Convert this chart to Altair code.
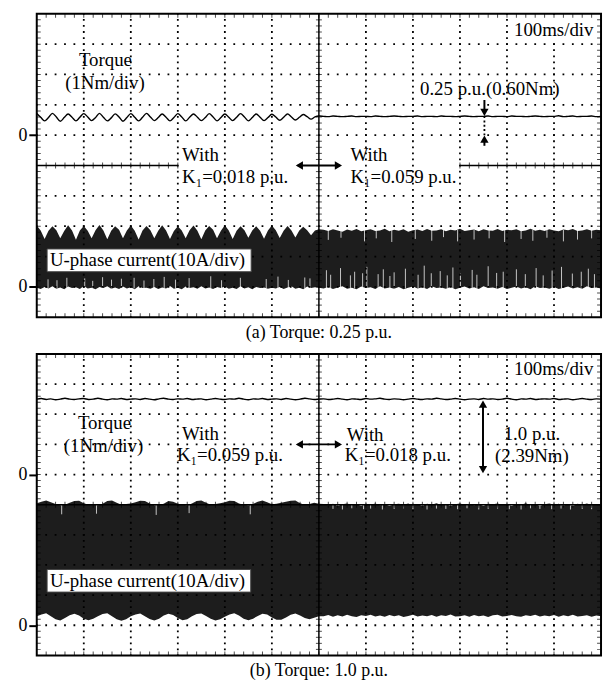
import altair as alt
import pandas as pd

FONT = "Liberation Serif"
INK = "black"
BAND = "#1d1d1d"

# time axis (divisions, 100 ms/div). Panel (a) left half is sampled finer
# because of the torque ripple.
X_A = [k / 12 for k in range(73)] + [6 + i / 10 for i in range(1, 61)]
X_B = [i / 10 for i in range(121)]

# ---------------- panel (a): torque 0.25 p.u. ----------------
TORQUE_A = [
    6.71, 6.59, 6.47, 6.58, 6.72, 6.60, 6.46, 6.58, 6.70, 6.59, 6.47, 6.59,
    6.71, 6.60, 6.48, 6.58, 6.72, 6.59, 6.47, 6.57, 6.70, 6.60, 6.46, 6.58,
    6.71, 6.59, 6.47, 6.59, 6.72, 6.60, 6.48, 6.58, 6.70, 6.59, 6.47, 6.58,
    6.71, 6.60, 6.47, 6.59, 6.70, 6.59, 6.48, 6.58, 6.71, 6.60, 6.47, 6.58,
    6.70, 6.59, 6.48, 6.59, 6.71, 6.60, 6.47, 6.58, 6.70, 6.59, 6.48, 6.58,
    6.69, 6.60, 6.49, 6.59, 6.70, 6.60, 6.50, 6.59, 6.68, 6.61, 6.53, 6.60,
    6.63,
    6.62, 6.61, 6.63, 6.62, 6.61, 6.62, 6.63, 6.61, 6.62, 6.62,
    6.61, 6.63, 6.62, 6.61, 6.62, 6.63, 6.62, 6.61, 6.62, 6.62,
    6.63, 6.61, 6.62, 6.62, 6.61, 6.63, 6.62, 6.62, 6.61, 6.62,
    6.63, 6.62, 6.61, 6.62, 6.62, 6.63, 6.61, 6.62, 6.62, 6.61,
    6.63, 6.62, 6.62, 6.61, 6.62, 6.63, 6.62, 6.61, 6.62, 6.62,
    6.64, 6.61, 6.62, 6.63, 6.61, 6.62, 6.62, 6.63, 6.61, 6.62,
]
CUR_A_UP = [
    3.02, 2.86, 2.58, 2.85, 3.00, 2.87, 2.60, 2.84, 3.03, 2.86, 2.55, 2.86,
    3.01, 2.85, 2.60, 2.87, 3.04, 2.86, 2.57, 2.85, 3.00, 2.88, 2.60, 2.86,
    3.02, 2.85, 2.56, 2.86, 3.01, 2.87, 2.60, 2.85, 3.03, 2.86, 2.58, 2.84,
    3.00, 2.86, 2.60, 2.87, 3.02, 2.85, 2.57, 2.86, 3.01, 2.88, 2.60, 2.85,
    3.03, 2.86, 2.58, 2.85, 3.00, 2.87, 2.62, 2.86, 3.00, 2.85, 2.59, 2.86,
    3.02, 2.87, 2.61, 2.85, 3.01, 2.86, 2.63, 2.86, 2.98, 2.87, 2.70, 2.86,
    2.90,
    2.88, 2.84, 2.90, 2.86, 2.82, 2.89, 2.85, 2.91, 2.83, 2.87,
    2.90, 2.84, 2.86, 2.92, 2.83, 2.88, 2.85, 2.90, 2.82, 2.87,
    2.89, 2.84, 2.91, 2.85, 2.86, 2.90, 2.83, 2.88, 2.86, 2.92,
    2.84, 2.87, 2.89, 2.83, 2.90, 2.86, 2.85, 2.91, 2.84, 2.88,
    2.87, 2.90, 2.83, 2.86, 2.92, 2.85, 2.88, 2.84, 2.90, 2.86,
    2.83, 2.89, 2.87, 2.91, 2.84, 2.86, 2.90, 2.85, 2.88, 2.87,
]
CUR_A_LO = [
    0.97, 0.93, 1.00, 0.95, 1.02, 0.94, 0.98, 0.92, 1.01, 0.96, 0.99, 0.93,
    1.03, 0.95, 0.97, 0.92, 1.00, 0.96, 1.02, 0.94, 0.98, 0.93, 1.01, 0.95,
    0.99, 0.92, 1.02, 0.96, 0.97, 0.94, 1.00, 0.93, 0.98, 0.95, 1.03, 0.94,
    0.97, 0.92, 1.01, 0.96, 0.99, 0.94, 1.02, 0.95, 0.98, 0.93, 1.00, 0.96,
    1.01, 0.94, 0.97, 0.93, 1.02, 0.95, 0.99, 0.92, 1.00, 0.96, 0.98, 0.94,
    0.97, 0.95, 1.00, 0.93, 0.98, 1.02, 0.94, 0.97, 0.92, 1.01, 0.96, 0.99,
    0.97,
    0.95, 1.00, 0.93, 0.98, 1.02, 0.94, 0.97, 0.92, 1.01, 0.96,
    0.99, 0.93, 1.02, 0.95, 0.98, 0.94, 1.00, 0.92, 0.97, 1.01,
    0.95, 0.99, 0.93, 1.02, 0.96, 0.98, 0.94, 1.00, 0.92, 0.97,
    1.01, 0.95, 0.99, 0.93, 1.02, 0.96, 0.98, 0.94, 1.00, 0.93,
    0.97, 1.01, 0.95, 0.99, 0.92, 1.02, 0.96, 0.98, 0.94, 1.00,
    0.93, 0.97, 1.01, 0.95, 0.99, 0.94, 1.02, 0.96, 0.98, 0.95,
]
# white switching spikes in the current trace (a): bottom ones, then top ones
SPK_A_X = [0.24, 0.43, 0.64, 1.02, 1.19, 1.40, 1.59, 1.80, 2.07, 2.28, 2.49, 2.71,
           2.95, 3.24, 3.70, 3.93, 4.33, 4.88, 5.13, 5.35, 5.70, 5.81,
           6.16, 6.25, 6.46, 6.67, 6.76, 6.93, 7.02, 7.26, 7.37, 7.51, 7.60, 7.84,
           8.11, 8.24, 8.39, 8.58, 8.73, 8.85, 9.01, 9.26, 9.36, 9.60, 9.78, 9.92,
           10.20, 10.39, 10.62, 10.77, 10.96, 11.16, 11.39, 11.58, 11.73, 11.86,
           6.20, 6.47, 6.97, 7.22, 7.55, 8.05, 8.40, 8.65, 8.95, 9.30, 9.62, 9.95,
           10.30, 10.55, 10.85, 11.20, 11.50, 11.80]
SPK_A_Y0 = [0.95] * 56 + [2.88] * 18
SPK_A_Y1 = [1.25, 1.22, 1.30, 1.28, 1.20, 1.32, 1.24, 1.27, 1.30, 1.21, 1.26, 1.33,
            1.24, 1.29, 1.35, 1.22, 1.30, 1.26, 1.34, 1.23, 1.31, 1.28,
            1.55, 1.40, 1.62, 1.38, 1.50, 1.45, 1.66, 1.42, 1.58, 1.36, 1.48, 1.60,
            1.40, 1.70, 1.45, 1.52, 1.38, 1.64, 1.44, 1.56, 1.40, 1.68, 1.46, 1.50,
            1.58, 1.42, 1.62, 1.38, 1.54, 1.66, 1.44, 1.50, 1.60, 1.42,
            2.55, 2.62, 2.50, 2.60, 2.48, 2.58, 2.52, 2.64, 2.50, 2.56, 2.60, 2.48,
            2.58, 2.52, 2.62, 2.50, 2.56, 2.60]

# ---------------- panel (b): torque 1.0 p.u. ----------------
TORQUE_B = [
    8.50, 8.52, 8.49, 8.51, 8.48, 8.50, 8.53, 8.50, 8.49, 8.51,
    8.52, 8.49, 8.50, 8.53, 8.50, 8.48, 8.51, 8.50, 8.52, 8.49,
    8.50, 8.51, 8.49, 8.52, 8.50, 8.48, 8.51, 8.53, 8.50, 8.49,
    8.51, 8.50, 8.52, 8.49, 8.50, 8.51, 8.48, 8.50, 8.52, 8.50,
    8.49, 8.51, 8.50, 8.53, 8.50, 8.48, 8.51, 8.50, 8.52, 8.49,
    8.50, 8.51, 8.49, 8.52, 8.50, 8.48, 8.50, 8.53, 8.51, 8.49,
    8.50,
    8.51, 8.49, 8.50, 8.52, 8.50, 8.48, 8.51, 8.50, 8.49, 8.52,
    8.50, 8.51, 8.53, 8.50, 8.49, 8.51, 8.50, 8.48, 8.50, 8.52,
    8.50, 8.49, 8.51, 8.50, 8.53, 8.51, 8.49, 8.50, 8.52, 8.50,
    8.48, 8.50, 8.51, 8.49, 8.52, 8.50, 8.51, 8.49, 8.50, 8.53,
    8.50, 8.48, 8.51, 8.50, 8.52, 8.49, 8.50, 8.51, 8.50, 8.52,
    8.49, 8.50, 8.51, 8.48, 8.50, 8.52, 8.50, 8.49, 8.51, 8.50,
]
CUR_B_UP = [
    5.05, 5.10, 5.14, 5.08, 5.02, 4.98, 5.00, 5.06, 5.12, 5.13,
    5.05, 5.00, 5.02, 4.98, 5.03, 5.12, 5.14, 5.06, 5.00, 5.02,
    5.04, 5.08, 5.13, 5.12, 5.04, 4.98, 5.00, 5.03, 5.12, 5.10,
    5.03, 5.00, 4.98, 5.04, 5.12, 5.14, 5.06, 5.00, 5.02, 5.05,
    5.08, 5.13, 5.12, 5.04, 5.00, 4.98, 5.02, 5.10, 5.14, 5.08,
    5.01, 5.03, 5.06, 5.10, 5.13, 5.14, 5.05, 5.00, 5.02, 5.06,
    5.03,
    5.02, 4.98, 5.03, 4.96, 5.01, 5.04, 4.99, 5.02, 4.96, 5.03,
    5.00, 5.04, 4.98, 5.02, 4.96, 5.01, 5.03, 5.00, 5.04, 4.97,
    5.02, 4.96, 5.03, 5.00, 5.05, 4.99, 5.02, 4.96, 5.01, 5.04,
    5.00, 5.03, 4.98, 5.02, 4.96, 5.03, 5.01, 5.04, 4.99, 5.02,
    4.96, 5.03, 5.00, 5.05, 4.98, 5.02, 4.96, 5.01, 5.04, 5.00,
    5.03, 4.97, 5.02, 4.96, 5.03, 5.00, 5.04, 4.99, 5.02, 5.01,
]
CUR_B_LO = [
    1.30, 1.36, 1.40, 1.30, 1.20, 1.16, 1.24, 1.33, 1.38, 1.32,
    1.22, 1.17, 1.22, 1.30, 1.37, 1.40, 1.30, 1.20, 1.15, 1.20,
    1.30, 1.36, 1.39, 1.30, 1.21, 1.16, 1.22, 1.32, 1.38, 1.34,
    1.24, 1.17, 1.20, 1.30, 1.37, 1.39, 1.31, 1.22, 1.16, 1.20,
    1.28, 1.36, 1.40, 1.32, 1.22, 1.17, 1.22, 1.31, 1.38, 1.36,
    1.26, 1.18, 1.18, 1.26, 1.35, 1.39, 1.32, 1.24, 1.20, 1.25,
    1.30,
    1.30, 1.34, 1.28, 1.33, 1.29, 1.35, 1.30, 1.27, 1.33, 1.31,
    1.35, 1.29, 1.32, 1.28, 1.34, 1.30, 1.33, 1.27, 1.31, 1.35,
    1.29, 1.32, 1.30, 1.34, 1.28, 1.33, 1.31, 1.36, 1.29, 1.30,
    1.33, 1.28, 1.34, 1.30, 1.32, 1.27, 1.33, 1.35, 1.29, 1.31,
    1.34, 1.30, 1.28, 1.33, 1.31, 1.35, 1.29, 1.32, 1.30, 1.34,
    1.28, 1.33, 1.30, 1.35, 1.29, 1.31, 1.33, 1.28, 1.32, 1.30,
]
SPK_B_X = [0.53, 1.27, 2.54, 3.24, 4.54,
           6.30, 6.50, 6.70, 6.95, 7.10, 7.35, 7.60, 7.80, 8.00, 8.30, 8.50, 8.70,
           8.95, 9.15, 9.40, 9.60, 9.80, 10.05, 10.30, 10.50, 10.70, 10.95, 11.15,
           11.35, 11.60, 11.80]
SPK_B_Y0 = [5.05] * 5 + [5.0] * 26
SPK_B_Y1 = [4.68, 4.70, 4.66, 4.72, 4.68] + [4.86, 4.84, 4.88, 4.85, 4.87, 4.84,
            4.86, 4.88, 4.85, 4.84, 4.87, 4.86, 4.85, 4.88, 4.84, 4.86, 4.87,
            4.85, 4.84, 4.88, 4.86, 4.85, 4.87, 4.84, 4.86, 4.85]

ZERO_LEVELS = [1, 6]          # current zero, torque zero (divisions)
GRID_COLS = [1, 2, 3, 4, 5, 7, 8, 9, 10, 11]
GRID_ROWS = [1, 2, 3, 4, 6, 7, 8, 9]
MINOR_X = [i / 5 for i in range(1, 60)]
MINOR_Y = [i / 5 for i in range(1, 50)]
CAPTIONS = ["(a) Torque: 0.25 p.u.", "(b) Torque: 1.0 p.u."]

W = 569
H_A = 306
H_B = 304

XS = alt.Scale(domain=[0, 12], nice=False, zero=False)
YS = alt.Scale(domain=[0, 10], nice=False, zero=False)
YAXIS = alt.Axis(values=ZERO_LEVELS, labelExpr="'0'", domain=False, grid=False,
                 ticks=True, tickSize=8, tickWidth=2, tickColor=INK,
                 labelFont=FONT, labelFontSize=18, labelColor=INK,
                 labelPadding=2, title=None)
ONE = pd.DataFrame({"k": [0]})


def X(f):
    return alt.X(f, scale=XS, axis=None, title=None)


def Y(f):
    return alt.Y(f, scale=YS, axis=YAXIS, title=None)


def XD(v):
    return alt.XDatum(v, scale=XS, axis=None)


def YD(v):
    return alt.YDatum(v, scale=YS, axis=YAXIS)


def text(t, x, y, align="left", size=19):
    return alt.Chart(ONE).mark_text(
        text=t, align=align, baseline="middle", font=FONT, fontSize=size, color=INK
    ).encode(x=XD(x), y=YD(y))


def hrule(x0, x1, y, width=2, dash=None):
    kw = dict(color=INK, strokeWidth=width)
    if dash:
        kw["strokeDash"] = dash
    return alt.Chart(ONE).mark_rule(**kw).encode(x=XD(x0), x2=alt.X2Datum(x1), y=YD(y))


def vrule(x, y0, y1, width=2, dash=None):
    kw = dict(color=INK, strokeWidth=width)
    if dash:
        kw["strokeDash"] = dash
    return alt.Chart(ONE).mark_rule(**kw).encode(x=XD(x), y=YD(y0), y2=alt.Y2Datum(y1))


def head(shape, x, y, dx=0, dy=0):
    return alt.Chart(ONE).mark_point(
        shape=shape, size=70, filled=True, color=INK, opacity=1, xOffset=dx, yOffset=dy
    ).encode(x=XD(x), y=YD(y))


def box(x0, x1, y0, y1, stroke=None):
    kw = dict(fill="white")
    if stroke:
        kw.update(stroke=stroke, strokeWidth=1)
    return alt.Chart(ONE).mark_rect(**kw).encode(
        x=XD(x0), x2=alt.X2Datum(x1), y=YD(y0), y2=alt.Y2Datum(y1))


def panel(xs, torque, up, lo, spx, spy0, spy1, height, center_segments, extras, caption):
    df = pd.DataFrame({"x": xs, "torque": torque, "up": up, "lo": lo})
    spk = pd.DataFrame({"x": spx, "y0": spy0, "y1": spy1})
    band = alt.Chart(df).mark_area(color=BAND, opacity=1).encode(
        x=X("x:Q"), y=Y("lo:Q"), y2="up:Q")
    spikes = alt.Chart(spk).mark_rule(color="white", strokeWidth=1, opacity=0.75).encode(
        x=X("x:Q"), y=Y("y0:Q"), y2="y1:Q")
    dot_w = W / 60
    dot_h = height / 50
    gh = alt.Chart(pd.DataFrame({"y": GRID_ROWS})).mark_rule(
        color=INK, strokeWidth=1.8, strokeDash=[1.8, dot_w - 1.8], strokeDashOffset=0.9
    ).encode(y=Y("y:Q"), x=XD(0), x2=alt.X2Datum(12))
    gv = alt.Chart(pd.DataFrame({"x": GRID_COLS})).mark_rule(
        color=INK, strokeWidth=1.8, strokeDash=[1.8, dot_h - 1.8], strokeDashOffset=0.9
    ).encode(x=X("x:Q"), y=YD(0), y2=alt.Y2Datum(10))
    seg = pd.DataFrame({"x0": [s[0] for s in center_segments],
                        "x1": [s[1] for s in center_segments]})
    crow = alt.Chart(seg).mark_rule(color=INK, strokeWidth=1.5).encode(
        x=X("x0:Q"), x2="x1:Q", y=YD(5))
    row_ticks_x = [v for v in MINOR_X if any(a <= v <= b for a, b in center_segments)]
    crow_t = alt.Chart(pd.DataFrame({"x": row_ticks_x})).mark_tick(
        orient="vertical", size=6, thickness=1, color=INK).encode(x=X("x:Q"), y=YD(5))
    ccol = vrule(6, 0, 10, width=1.5)
    ccol_t = alt.Chart(pd.DataFrame({"y": MINOR_Y})).mark_tick(
        orient="horizontal", size=6, thickness=1, color=INK).encode(y=Y("y:Q"), x=XD(6))
    tq = alt.Chart(df).mark_line(color=INK, strokeWidth=1.4, interpolate="catmull-rom").encode(
        x=X("x:Q"), y=Y("torque:Q"))
    bt = pd.DataFrame({"x": MINOR_X * 2, "y": [0] * len(MINOR_X) + [10] * len(MINOR_X)})
    b_t = alt.Chart(bt).mark_tick(orient="vertical", size=8, thickness=1, color=INK,
                                  clip=True).encode(x=X("x:Q"), y=Y("y:Q"))
    bs = pd.DataFrame({"y": MINOR_Y * 2, "x": [0] * len(MINOR_Y) + [12] * len(MINOR_Y)})
    b_s = alt.Chart(bs).mark_tick(orient="horizontal", size=8, thickness=1, color=INK,
                                  clip=True).encode(x=X("x:Q"), y=Y("y:Q"))
    border = alt.Chart(ONE).mark_rect(filled=False, stroke=INK, strokeWidth=2).encode(
        x=XD(0), x2=alt.X2Datum(12), y=YD(0), y2=alt.Y2Datum(10))
    layers = [band, spikes, gh, gv, crow, crow_t, ccol, ccol_t, tq] + extras + [b_t, b_s, border]
    return alt.layer(*layers).properties(
        width=W, height=height,
        title=alt.TitleParams(caption, orient="bottom", font=FONT, fontSize=18,
                              fontWeight="normal", color=INK, offset=6))


extras_a = [
    box(10.05, 11.95, 9.15, 9.85),
    text("100ms/div", 11.84, 9.48, align="right"),
    text("Torque", 1.46, 8.46, align="center"),
    text("(1Nm/div)", 1.45, 7.71, align="center"),
    text("With", 3.09, 5.36),
    text("K₁=0.018 p.u.", 3.09, 4.61),
    text("With", 6.67, 5.36),
    text("K₁=0.059 p.u.", 6.67, 4.61),
    text("0.25 p.u.(0.60Nm)", 8.15, 7.52),
    box(0.22, 4.56, 1.5, 2.25, stroke="#444444"),
    text("U-phase current(10A/div)", 0.28, 1.88),
    hrule(5.55, 6.45, 5),
    head("triangle-left", 5.5, 5, dx=4),
    head("triangle-right", 6.5, 5, dx=-4),
    vrule(9.52, 7.16, 6.8),
    head("triangle-down", 9.52, 6.62, dy=-4),
    vrule(9.52, 5.65, 5.85),
    head("triangle-up", 9.52, 6.0, dy=4),
    vrule(9.52, 6.0, 6.62, width=1.8, dash=[1.8, 2.5]),
]
extras_b = [
    box(10.05, 11.95, 9.2, 9.88),
    text("100ms/div", 11.84, 9.5, align="right"),
    text("Torque", 1.44, 7.72, align="center"),
    text("(1Nm/div)", 1.42, 6.96, align="center"),
    text("With", 3.09, 7.33),
    text("K₁=0.059 p.u.", 2.98, 6.63),
    text("With", 6.59, 7.31),
    text("K₁=0.018 p.u.", 6.55, 6.63),
    text("1.0 p.u.", 10.53, 7.33, align="center"),
    text("(2.39Nm)", 10.53, 6.6, align="center"),
    box(0.22, 4.55, 2.1, 2.85, stroke="#444444"),
    text("U-phase current(10A/div)", 0.28, 2.46),
    hrule(5.55, 6.45, 7),
    head("triangle-left", 5.5, 7, dx=4),
    head("triangle-right", 6.5, 7, dx=-4),
    vrule(9.49, 6.15, 8.35),
    head("triangle-up", 9.49, 8.5, dy=5),
    head("triangle-down", 9.49, 6.0, dy=-5),
]

pa = panel(X_A, TORQUE_A, CUR_A_UP, CUR_A_LO, SPK_A_X, SPK_A_Y0, SPK_A_Y1, H_A,
           [(0, 3), (9, 12)], extras_a, CAPTIONS[0])
pb = panel(X_B, TORQUE_B, CUR_B_UP, CUR_B_LO, SPK_B_X, SPK_B_Y0, SPK_B_Y1, H_B,
           [(0, 12)], extras_b, CAPTIONS[1])

chart = alt.vconcat(pa, pb, spacing=11).properties(
    padding={"left": 10, "top": 2, "right": 0, "bottom": 2}
).configure_view(stroke=None)

chart.save("out.html", embed_options={"renderer": "svg", "actions": False})
